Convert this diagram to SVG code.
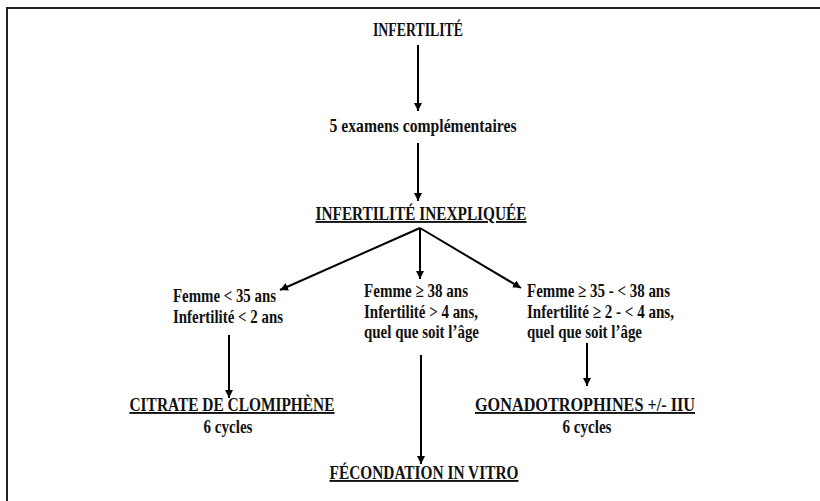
<svg xmlns="http://www.w3.org/2000/svg" width="820" height="501" viewBox="0 0 820 501">
<defs>
<marker id="ah" viewBox="0 0 10 10" refX="10" refY="5" markerWidth="4" markerHeight="4" markerUnits="strokeWidth" orient="auto">
<path d="M0,0 L10,5 L0,10 z" fill="#000"/>
</marker>
<style>
text{font-family:"Liberation Serif","Times New Roman",serif;font-weight:bold;fill:#111}
.t{font-size:19px}
.c{text-anchor:middle}
.u{text-decoration:underline}
.e line{stroke:#000;stroke-width:2;marker-end:url(#ah)}
.frame{stroke:#222;stroke-width:2;fill:none}
</style>
</defs>
<rect width="820" height="501" fill="#fff"/>
<path class="frame" d="M7,501 V8 H820"/>
<g id="n-infertilite"><text class="t c" x="418" y="36" textLength="90" lengthAdjust="spacingAndGlyphs">INFERTILITÉ</text></g>
<g id="n-examens"><text class="t c" x="423" y="132" textLength="187" lengthAdjust="spacingAndGlyphs">5 examens complémentaires</text></g>
<g id="n-inexpliquee"><text class="t c u" x="421" y="220" textLength="211" lengthAdjust="spacingAndGlyphs">INFERTILITÉ INEXPLIQUÉE</text></g>
<g id="n-femme35">
<text class="t" x="173" y="302" textLength="103" lengthAdjust="spacingAndGlyphs">Femme &lt; 35 ans</text>
<text class="t" x="173" y="323" textLength="110" lengthAdjust="spacingAndGlyphs">Infertilité &lt; 2 ans</text>
</g>
<g id="n-femme38">
<text class="t" x="364" y="297" textLength="104" lengthAdjust="spacingAndGlyphs">Femme ≥ 38 ans</text>
<text class="t" x="364" y="318" textLength="114" lengthAdjust="spacingAndGlyphs">Infertilité &gt; 4 ans,</text>
<text class="t" x="364" y="338" textLength="115" lengthAdjust="spacingAndGlyphs">quel que soit l’âge</text>
</g>
<g id="n-femme35-38">
<text class="t" x="527" y="297" textLength="143" lengthAdjust="spacingAndGlyphs">Femme ≥ 35 - &lt; 38 ans</text>
<text class="t" x="527" y="318" textLength="147" lengthAdjust="spacingAndGlyphs">Infertilité ≥ 2 - &lt; 4 ans,</text>
<text class="t" x="527" y="338" textLength="115" lengthAdjust="spacingAndGlyphs">quel que soit l’âge</text>
</g>
<g id="n-citrate">
<text class="t c u" x="232" y="411" textLength="205" lengthAdjust="spacingAndGlyphs">CITRATE DE CLOMIPHÈNE</text>
<text class="t c" x="228" y="433" textLength="49" lengthAdjust="spacingAndGlyphs">6 cycles</text>
</g>
<g id="n-gonado">
<text class="t c u" x="585" y="411" textLength="220" lengthAdjust="spacingAndGlyphs">GONADOTROPHINES +/- IIU</text>
<text class="t c" x="587" y="433" textLength="49" lengthAdjust="spacingAndGlyphs">6 cycles</text>
</g>
<g id="n-fiv"><text class="t c u" x="424" y="479" textLength="189" lengthAdjust="spacingAndGlyphs">FÉCONDATION IN VITRO</text></g>
<g id="connectors" class="e">
<line x1="418" y1="45" x2="418" y2="111"/>
<line x1="418" y1="143" x2="418" y2="201"/>
<line x1="420" y1="228" x2="280" y2="290"/>
<line x1="420" y1="228" x2="420" y2="279"/>
<line x1="420" y1="228" x2="521" y2="288"/>
<line x1="229" y1="335" x2="229" y2="398"/>
<line x1="421" y1="355" x2="421" y2="464"/>
<line x1="587" y1="343" x2="587" y2="386"/>
</g>
</svg>
